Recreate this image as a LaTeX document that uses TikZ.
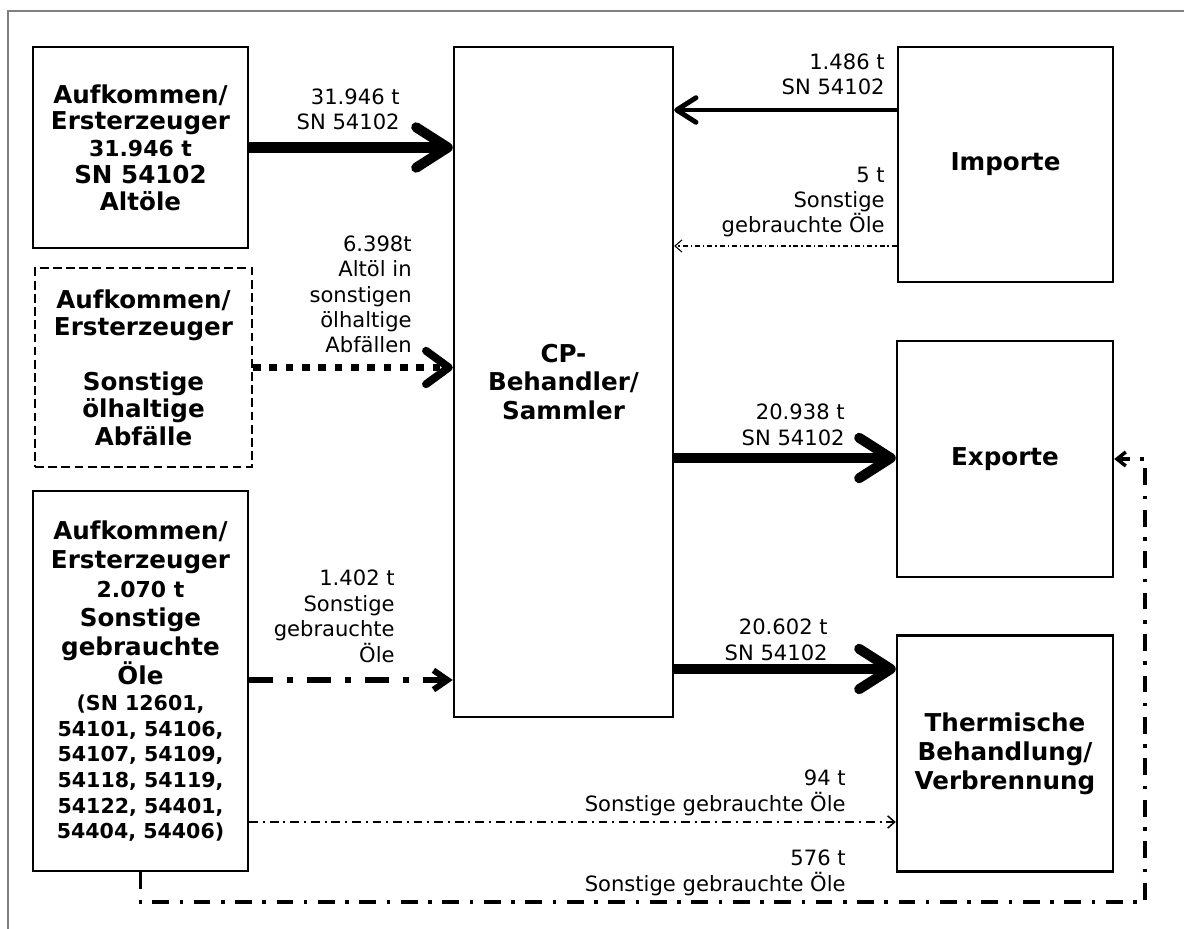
\documentclass[tikz,border=0pt]{standalone}
\usepackage{fontspec}
\setmainfont{DejaVu Sans}
\usetikzlibrary{arrows.meta,positioning}

\begin{document}
\begin{tikzpicture}[x=0.02cm,y=-0.02cm,
		box/.style={draw,line width=1.4pt,inner sep=0pt,align=center,
			font=\bfseries\fontsize{14}{15.6}\selectfont},
		lbl/.style={inner sep=0pt,align=right,anchor=base east,
			font=\fontsize{12}{14.5}\selectfont},
		heavy/.style={line width=5.7pt,-{Straight Barb[length=18pt,width=23pt,round]}},
		medium/.style={line width=2.8pt,-{Straight Barb[length=11pt,width=14pt,round]}},
		dotline/.style={line width=4.5pt,dash pattern=on 4.3pt off 5pt,
			-{Straight Barb[length=13pt,width=19pt,round]}},
		dashdotbig/.style={line width=3.4pt,dash pattern=on 13.6pt off 8pt on 3.4pt off 8pt,
			-{Straight Barb[length=8pt,width=11pt]}},
		dashdotthin/.style={line width=0.85pt,dash pattern=on 5pt off 2.8pt on 1.1pt off 2.8pt,
			-{Straight Barb[length=4pt,width=7pt]}},
		dashdotfine/.style={line width=0.6pt,dash pattern=on 2.8pt off 1.7pt on 0.8pt off 1.7pt,
			-{Straight Barb[length=4pt,width=7pt]}},
		dashdotloop/.style={line width=2pt,dash pattern=on 9.6pt off 6pt on 2pt off 6pt,
			-{Straight Barb[length=5pt,width=8pt]}}
	]
	\useasboundingbox (0,0) rectangle (1184,929);
	% frame
	\draw[gray,line width=0.6pt] (8,929) -- (8,11) -- (1184,11);

	% sources
	\node[box,font=\bfseries\fontsize{14}{15.2}\selectfont,minimum width=4.3cm,minimum height=4.02cm] (alt) at (140.5,147.5)
		{Aufkommen/\\Ersterzeuger\\{\fontsize{12.5}{15.2}\selectfont 31.946 t}\\SN 54102\\Altöle};
	\node[box,dash pattern=on 5pt off 2.5pt,line width=1.2pt,minimum width=4.34cm,minimum height=3.98cm] (sonst) at (143.5,367.5)
		{Aufkommen/\\Ersterzeuger\\~\\Sonstige\\ölhaltige\\Abfälle};
	\node[box,font=\bfseries\fontsize{14}{16.6}\selectfont,minimum width=4.3cm,minimum height=7.6cm] (gebr) at (140.5,681)
		{Aufkommen/\\Ersterzeuger\\{\fontsize{12.5}{16.6}\selectfont 2.070 t}\\Sonstige\\gebrauchte\\Öle\\[-2pt]
		{\fontsize{11.7}{14.6}\selectfont (SN 12601,}\\[-2pt]{\fontsize{11.7}{14.6}\selectfont 54101, 54106,}\\[-2pt]
		{\fontsize{11.7}{14.6}\selectfont 54107, 54109,}\\[-2pt]{\fontsize{11.7}{14.6}\selectfont 54118, 54119,}\\[-2pt]
		{\fontsize{11.7}{14.6}\selectfont 54122, 54401,}\\[-2pt]{\fontsize{11.7}{14.6}\selectfont 54404, 54406)}};

	% treatment
	\node[box,font=\bfseries\fontsize{14}{16}\selectfont,minimum width=4.38cm,minimum height=13.4cm] (cp) at (563.5,382)
		{CP-\\Behandler/\\Sammler};

	% targets
	\node[box,minimum width=4.3cm,minimum height=4.7cm] (imp) at (1005.5,164.5) {Importe};
	\node[box,minimum width=4.32cm,minimum height=4.72cm] (exp) at (1005,459) {Exporte};
	\node[box,font=\bfseries\fontsize{14}{16.5}\selectfont,minimum width=4.32cm,minimum height=4.72cm] (therm) at (1005,753.5)
		{Thermische\\Behandlung/\\Verbrennung};

	% flows
	\coordinate (impA) at (imp.west |- 0,110);
	\coordinate (impB) at (imp.west |- 0,246);
	\coordinate (cpA) at (cp.east |- 0,458);
	\coordinate (cpB) at (cp.east |- 0,669);
	\coordinate (gebrA) at (gebr.east |- 0,680);
	\coordinate (gebrB) at (gebr.east |- 0,822);
	\coordinate (loop) at (1145,902);

	\draw[heavy] (alt.east) -- (cp.west |- alt.east);
	\draw[medium] (impA) -- (impA -| cp.east);
	\draw[dashdotfine] (impB) -- (impB -| cp.east);
	\draw[dotline] (sonst.east) -- (cp.west |- sonst.east);
	\draw[heavy] (cpA) -- (cpA -| exp.west);
	\draw[heavy] (cpB) -- (cpB -| therm.west);
	\draw[dashdotbig] (gebrA) -- (gebrA -| cp.west);
	\draw[dashdotthin] (gebrB) -- (gebrB -| therm.west);
	\draw[dashdotloop] (gebr.south) |- (loop) |- (exp.east);

	% labels, placed at the baseline of their last line
	\node[lbl] (l1) at (400,130) {31.946 t\\SN 54102};
	\node[lbl] (l2) at (412,353) {6.398t\\Altöl in\\sonstigen\\ölhaltige\\Abfällen};
	\node[lbl] (l3) at (395,662) {1.402 t\\Sonstige\\gebrauchte\\Öle};
	\node[lbl] (l4) at (885,95) {1.486 t\\SN 54102};
	\node[lbl] (l5) at (885,233) {5 t\\Sonstige\\gebrauchte Öle};
	\node[lbl] (l6) at (845,445) {20.938 t\\SN 54102};
	\node[lbl] (l7) at (828,660) {20.602 t\\SN 54102};
	\node[lbl] (l8) at (846,811) {94 t\\Sonstige gebrauchte Öle};
	\node[lbl] (l9) at (846,891) {576 t\\Sonstige gebrauchte Öle};
\end{tikzpicture}
\end{document}
